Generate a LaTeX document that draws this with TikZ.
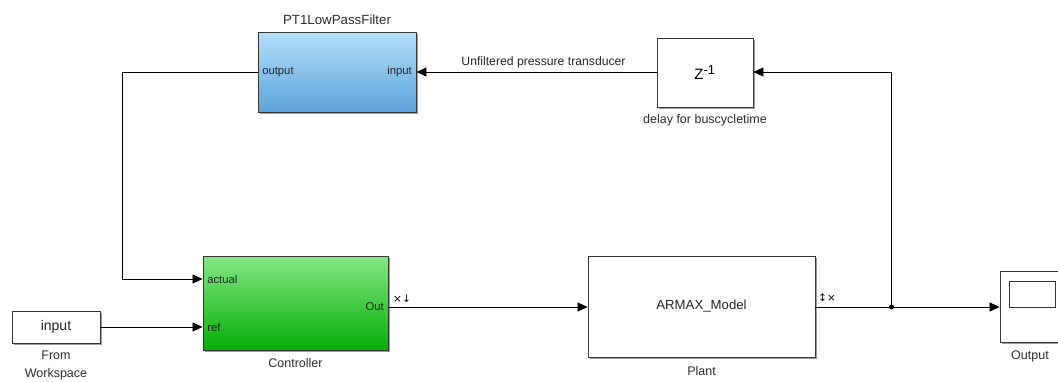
\documentclass[tikz,border=0pt]{standalone}
\usepackage{fontspec}
\setmainfont{Liberation Sans}
\newfontfamily\symfont{DejaVu Sans}
\usetikzlibrary{arrows.meta,shadows,calc}
\definecolor{pttop}{HTML}{B3DFFC}
\definecolor{ptbot}{HTML}{5BA4D8}
\definecolor{cttop}{HTML}{84E884}
\definecolor{ctbot}{HTML}{06AE06}
\tikzset{
  block/.style={draw=black!78, line width=0.9pt, inner sep=0pt,
    drop shadow={shadow xshift=2pt, shadow yshift=-2pt, fill=black!60, opacity=0.65}},
  plainblock/.style={block, fill=white},
  blockname/.style={font=\fontsize{12.5}{14}\selectfont, text=black!82, align=center},
  portlabel/.style={font=\fontsize{11.3}{13}\selectfont, text=black!85, inner xsep=4.5pt, inner ysep=1pt},
  sig/.style={draw=black, line width=0.8pt},
  sigarrow/.style={sig, -{Triangle[length=10pt,width=9pt]}},
  marker/.style={font=\symfont\fontsize{10.5}{11}\selectfont, inner sep=0pt},
}
\begin{document}
\begin{tikzpicture}[x=1pt,y=-1pt]
\useasboundingbox (0,0) rectangle (1058,381);
\clip (0,0) rectangle (1058,381);
\fill[white] (0,0) rectangle (1058,381);

% blocks
\node[block, top color=pttop, bottom color=ptbot, minimum width=158pt, minimum height=80pt] (pt1) at (337,72) {};
\node[plainblock, minimum width=96pt, minimum height=69pt] (delay) at (705,72.5) {\fontsize{15}{17}\selectfont Z$^{\textrm{\fontsize{13}{15}\selectfont -1}}$};
\node[block, top color=cttop, bottom color=ctbot, minimum width=185pt, minimum height=94pt] (ctrl) at (295.5,303) {};
\node[plainblock, minimum width=227pt, minimum height=101pt, font=\fontsize{13.2}{16}\selectfont, text=black!85] (plant) at (701.5,306.5) {ARMAX\_Model};
\node[plainblock, minimum width=88pt, minimum height=32pt, font=\fontsize{14}{16}\selectfont, text=black!85] (ws) at (56,327) {input};
\node[plainblock, minimum width=72pt, minimum height=71pt] (scope) at (1036,306.5) {};
\node[draw=black!80, line width=0.9pt, minimum width=46pt, minimum height=26pt, inner sep=0pt] (screen) at (1032,294) {};

% block names
\node[blockname, anchor=base, font=\fontsize{13.3}{15}\selectfont] (pt1name) at (337,24) {PT1LowPassFilter};
\node[blockname, anchor=base] (delayname) at (705,123) {delay for buscycletime};
\node[blockname, anchor=base] (ctrlname) at (295.5,367) {Controller};
\node[blockname, anchor=base] (plantname) at (701.5,375) {Plant};
\node[blockname, anchor=base] (scopename) at (1030,359) {Output};
\node[blockname, anchor=north, font=\fontsize{12.5}{18}\selectfont] (wsname) at (56,347) {From\\Workspace};

% ports
\coordinate (pt1out) at (pt1.west |- 0,72);
\coordinate (pt1in) at (pt1.east |- 0,72);
\coordinate (ctrlact) at (ctrl.west |- 0,279);
\coordinate (ctrlref) at (ctrl.west |- 0,327);
\coordinate (ctrlout) at (ctrl.east |- 0,307);
\coordinate (plantin) at (plant.west |- 0,307);
\coordinate (plantout) at (plant.east |- 0,307);
\coordinate (scopein) at (scope.west |- 0,307);
\coordinate (delayin) at (delay.east |- 0,72);
\coordinate (delayout) at (delay.west |- 0,72);

\node[portlabel, anchor=west] (l1) at (pt1out) {output};
\node[portlabel, anchor=east] (l2) at (pt1in) {input};
\node[portlabel, anchor=west] (l3) at (ctrlact) {actual};
\node[portlabel, anchor=west] (l4) at (ctrlref) {ref};
\node[portlabel, anchor=east] (l5) at (ctrlout) {Out};

% signal dimension markers
\node[marker] (m1) at (402,298.5) {×↓};
\node[marker] (m2) at (827,298) {↕×};

% branch point
\coordinate (branch) at (891.5,307);
\coordinate (fbleft) at (122,72);

% signal lines
\draw[sigarrow] (ws.east |- ctrlref) -- (ctrlref);
\draw[sigarrow] (ctrlout) -- (plantin);
\draw[sigarrow] (plantout) -- (scopein);
\fill (branch) circle (2.5pt);
\draw[sigarrow] (branch) |- (delayin);
\draw[sigarrow] (delayout) -- node[portlabel, above=3pt, xshift=7pt, font=\fontsize{12.2}{14}\selectfont] (sname) {Unfiltered pressure transducer} (pt1in);
\draw[sigarrow] (pt1out) -- (fbleft) |- (ctrlact);
\end{tikzpicture}
\end{document}
